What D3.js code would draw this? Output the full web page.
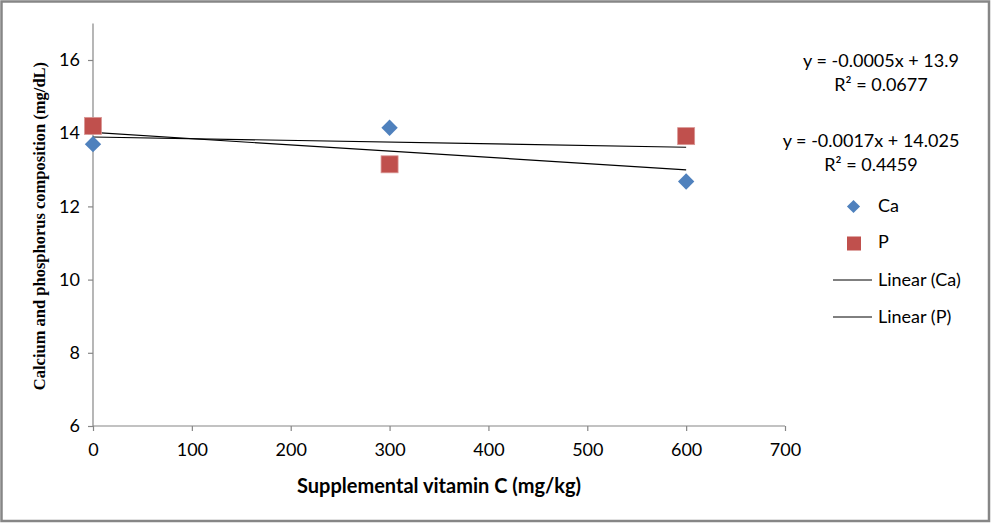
<!DOCTYPE html>
<html>
<head>
<meta charset="utf-8">
<script src="https://cdn.jsdelivr.net/npm/d3@7"></script>
<style>
  body { margin: 0; background: #fff; }
  svg { display: block; }
</style>
</head>
<body>
<svg width="991" height="523"></svg>
<script>
var doses = [0, 300, 600];
var caValues = [13.7, 14.15, 12.68];
var pValues = [14.2, 13.15, 13.92];
var xTicks = [0, 100, 200, 300, 400, 500, 600, 700];
var yTicks = [6, 8, 10, 12, 14, 16];
var caEquation = ['y = -0.0017x + 14.025', 'R\u00b2 = 0.4459'];
var pEquation = ['y = -0.0005x + 13.9', 'R\u00b2 = 0.0677'];

var svg = d3.select('svg');
var axisColor = '#868686';
var tickFont = 'Lato, "Open Sans", sans-serif';

// outer border
svg.append('rect')
  .attr('x', 1.5).attr('y', 1.5)
  .attr('width', 987.5).attr('height', 519.5)
  .style('fill', 'none')
  .style('stroke', axisColor)
  .style('stroke-width', 2.5);

var x = d3.scaleLinear().domain([0, 700]).range([93, 785]);
var y = d3.scaleLinear().domain([6, 17]).range([426, 23.4]);

// least squares fit, drawn over the data range like Excel trendlines
function fit(xs, ys){
  var mx = d3.mean(xs), my = d3.mean(ys);
  var sxy = d3.sum(xs, function(v, i){ return (v-mx)*(ys[i]-my); });
  var sxx = d3.sum(xs, function(v){ return (v-mx)*(v-mx); });
  var b = sxy/sxx;
  return { slope: b, intercept: my - b*mx };
}

var yAxis = svg.append('g')
  .attr('transform', 'translate(' + x(0) + ',0)')
  .call(d3.axisLeft(y).tickValues(yTicks).tickSize(5).tickPadding(8).tickSizeOuter(0));
var xAxis = svg.append('g')
  .attr('transform', 'translate(0,' + y(6) + ')')
  .call(d3.axisBottom(x).tickValues(xTicks).tickSize(5).tickPadding(12).tickSizeOuter(0));

[xAxis, yAxis].forEach(function(g){
  g.select('.domain').style('stroke', axisColor).style('stroke-width', 1.2);
  g.selectAll('.tick line').style('stroke', axisColor).style('stroke-width', 1.2);
  g.selectAll('.tick text')
    .style('font-family', tickFont)
    .style('font-size', '18px')
    .style('fill', '#000');
});
// extend y axis to top of range
yAxis.select('.domain').attr('d', 'M0,' + y(17) + 'V' + y(6));
xAxis.select('.domain').attr('d', 'M' + x(0) + ',0H' + x(700));

// trendlines
var lineGroup = svg.append('g');
[caValues, pValues].forEach(function(vals){
  var f = fit(doses, vals);
  lineGroup.append('line')
    .attr('x1', x(0)).attr('y1', y(f.intercept))
    .attr('x2', x(600)).attr('y2', y(f.intercept + f.slope*600))
    .style('stroke', '#000')
    .style('stroke-width', 1.2);
});

// markers
var diamond = d3.symbol().type(d3.symbolDiamond2).size(170);
svg.append('g').selectAll('path')
  .data(caValues)
  .enter().append('path')
  .attr('d', diamond)
  .attr('transform', function(v, i){
    return 'translate(' + x(doses[i]) + ',' + y(v) + ')';
  })
  .style('fill', '#4F81BD');

svg.append('g').selectAll('rect')
  .data(pValues)
  .enter().append('rect')
  .attr('x', function(v, i){ return x(doses[i]) - 8.5; })
  .attr('y', function(v){ return y(v) - 8.5; })
  .attr('width', 17).attr('height', 17)
  .style('fill', '#C0504D')
  .style('stroke', '#D99694')
  .style('stroke-width', 0.8);

// equation labels
function eqLabel(lines, cx, cy){
  svg.append('g').selectAll('text')
    .data(lines)
    .enter().append('text')
    .attr('x', cx)
    .attr('y', function(t, i){ return cy + i*24; })
    .attr('text-anchor', 'middle')
    .style('font-family', tickFont)
    .style('font-size', '18px')
    .text(function(t){ return t; });
}
eqLabel(pEquation, 881, 67);
eqLabel(caEquation, 871, 147);

// legend
var legend = svg.append('g').style('font-family', tickFont).style('font-size', '18px');
legend.append('path')
  .attr('d', d3.symbol().type(d3.symbolDiamond2).size(110))
  .attr('transform', 'translate(853.5,206.5)')
  .style('fill', '#4F81BD');
legend.append('text').attr('x', 878).attr('y', 212).text('Ca');
legend.append('rect')
  .attr('x', 847).attr('y', 236.5).attr('width', 14).attr('height', 14)
  .style('fill', '#C0504D');
legend.append('text').attr('x', 878).attr('y', 248).text('P');
['Linear (Ca)', 'Linear (P)'].forEach(function(name, i){
  var ly = 280 + i*37;
  legend.append('line')
    .attr('x1', 833).attr('x2', 872).attr('y1', ly).attr('y2', ly)
    .style('stroke', '#000').style('stroke-width', 1);
  legend.append('text').attr('x', 878).attr('y', ly + 6).text(name);
});

// axis titles
svg.append('text')
  .attr('x', 439).attr('y', 493)
  .attr('text-anchor', 'middle')
  .style('font-family', tickFont)
  .style('font-size', '20px')
  .style('font-weight', 'bold')
  .text('Supplemental vitamin C (mg/kg)');

svg.append('text')
  .attr('transform', 'translate(45,226) rotate(-90)')
  .attr('text-anchor', 'middle')
  .style('font-family', '"Liberation Serif", serif')
  .style('font-size', '16.5px')
  .style('font-weight', 'bold')
  .text('Calcium and phosphorus composition (mg/dL)');
</script>
</body>
</html>
